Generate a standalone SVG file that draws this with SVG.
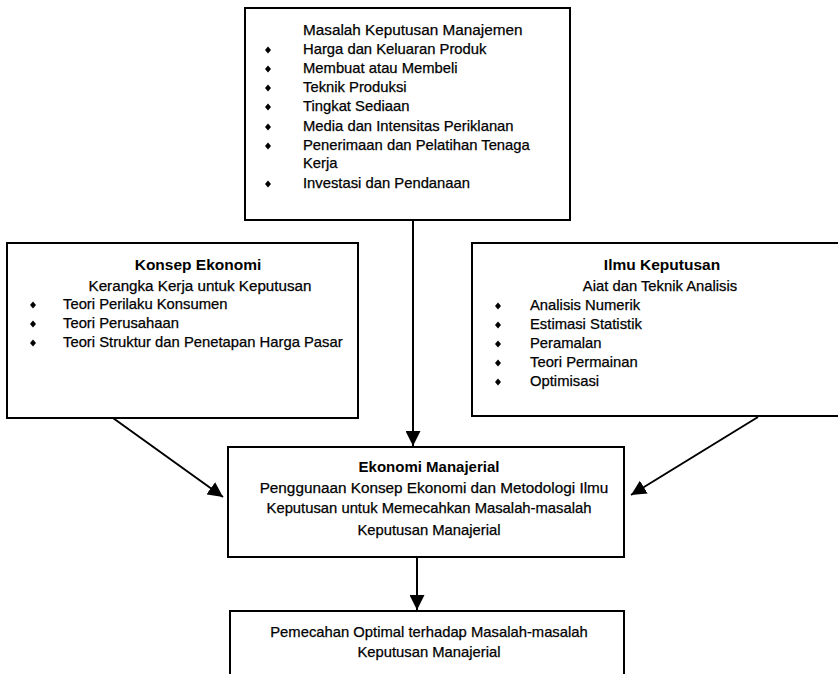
<svg xmlns="http://www.w3.org/2000/svg" width="838" height="674" viewBox="0 0 838 674">
<style>
.box{fill:#fff;stroke:#000;stroke-width:2}
.t{font-family:"Liberation Sans",Arial,sans-serif;font-size:14.8px;fill:#000;stroke:#000;stroke-width:0.25}
.h{font-weight:bold;font-size:15px;stroke-width:0}
.c{text-anchor:middle}
.con{stroke:#000;stroke-width:2;fill:none}
</style>
<defs>
<marker id="ah" viewBox="0 0 10 10" refX="10" refY="5" markerWidth="7.5" markerHeight="7.5" markerUnits="strokeWidth" orient="auto">
<path d="M0,0 L10,5 L0,10 Z" fill="#000"/>
</marker>
<path id="b" d="M0,-3.5 L3,0 L0,3.5 L-3,0 Z" fill="#000"/>
</defs>
<rect width="838" height="674" fill="#fff"/>
<g id="connectors">
<line class="con" x1="413" y1="221" x2="413" y2="446" marker-end="url(#ah)"/>
<line class="con" x1="113" y1="418" x2="223" y2="497" marker-end="url(#ah)"/>
<line class="con" x1="758" y1="417" x2="631" y2="495" marker-end="url(#ah)"/>
<line class="con" x1="417" y1="557" x2="417" y2="610" marker-end="url(#ah)"/>
</g>
<g id="masalah">
<rect class="box" x="245" y="8" width="325" height="212"/>
<text class="t" x="303" y="35" style="font-size:15.3px">Masalah Keputusan Manajemen</text>
<use href="#b" x="268" y="50"/><text class="t" x="303" y="54">Harga dan Keluaran Produk</text>
<use href="#b" x="268" y="69"/><text class="t" x="303" y="73">Membuat atau Membeli</text>
<use href="#b" x="268" y="88"/><text class="t" x="303" y="92">Teknik Produksi</text>
<use href="#b" x="268" y="107"/><text class="t" x="303" y="111">Tingkat Sediaan</text>
<use href="#b" x="268" y="127"/><text class="t" x="303" y="131">Media dan Intensitas Periklanan</text>
<use href="#b" x="268" y="146"/><text class="t" x="303" y="150">Penerimaan dan Pelatihan Tenaga</text>
<text class="t" x="303" y="168">Kerja</text>
<use href="#b" x="268" y="184"/><text class="t" x="303" y="188">Investasi dan Pendanaan</text>
</g>
<g id="konsep">
<rect class="box" x="7" y="243" width="351" height="175"/>
<text class="t h c" x="198" y="270" style="font-size:15.5px">Konsep Ekonomi</text>
<text class="t c" x="200" y="291" style="font-size:15.2px">Kerangka Kerja untuk Keputusan</text>
<use href="#b" x="33" y="305"/><text class="t" x="63" y="309">Teori Perilaku Konsumen</text>
<use href="#b" x="33" y="324"/><text class="t" x="63" y="328">Teori Perusahaan</text>
<use href="#b" x="33" y="343"/><text class="t" x="63" y="347">Teori Struktur dan Penetapan Harga Pasar</text>
</g>
<g id="ilmu">
<rect class="box" x="472" y="243" width="380" height="173"/>
<text class="t h c" x="662" y="270" style="font-size:15.5px">Ilmu Keputusan</text>
<text class="t c" x="660" y="291">Aiat dan Teknik Analisis</text>
<use href="#b" x="498" y="306"/><text class="t" x="530" y="310">Analisis Numerik</text>
<use href="#b" x="498" y="325"/><text class="t" x="530" y="329">Estimasi Statistik</text>
<use href="#b" x="498" y="344"/><text class="t" x="530" y="348">Peramalan</text>
<use href="#b" x="498" y="363"/><text class="t" x="530" y="367">Teori Permainan</text>
<use href="#b" x="498" y="382"/><text class="t" x="530" y="386">Optimisasi</text>
</g>
<g id="ekonomi">
<rect class="box" x="228" y="447" width="396" height="110"/>
<text class="t h c" x="429" y="472">Ekonomi Manajerial</text>
<text class="t c" x="434" y="493" style="font-size:15.3px">Penggunaan Konsep Ekonomi dan Metodologi Ilmu</text>
<text class="t c" x="429" y="513">Keputusan untuk Memecahkan Masalah-masalah</text>
<text class="t c" x="429" y="535">Keputusan Manajerial</text>
</g>
<g id="pemecahan">
<rect class="box" x="230" y="611" width="394" height="80"/>
<text class="t c" x="429" y="637">Pemecahan Optimal terhadap Masalah-masalah</text>
<text class="t c" x="429" y="657">Keputusan Manajerial</text>
</g>
</svg>
